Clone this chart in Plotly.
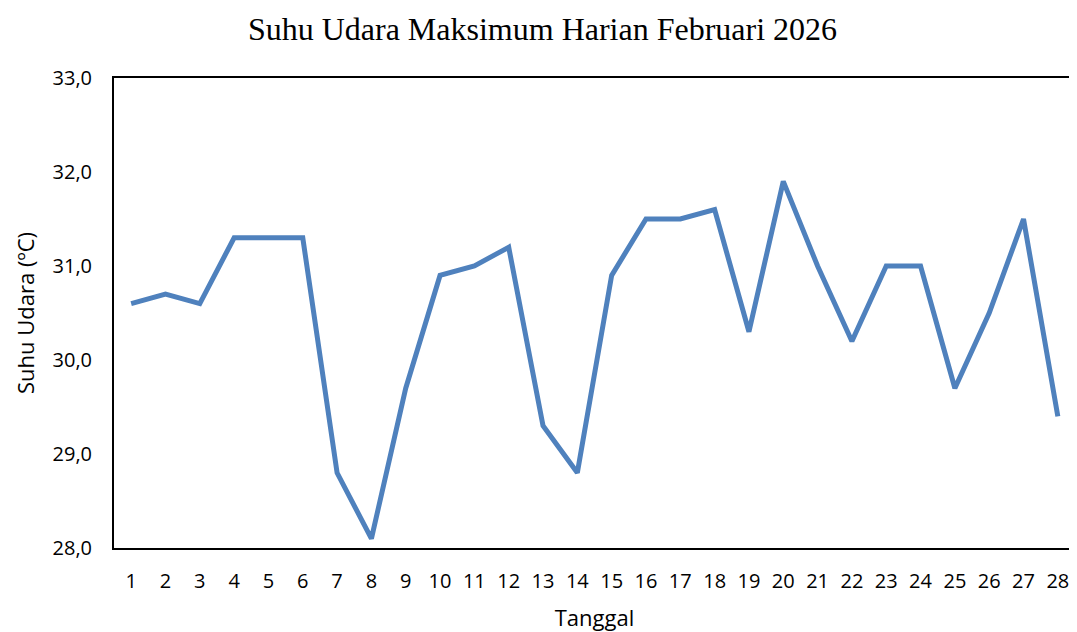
import plotly.graph_objects as go

tanggal = list(range(1, 29))
suhu = [30.6, 30.7, 30.6, 31.3, 31.3, 31.3, 28.8, 28.1, 29.7, 30.9,
        31.0, 31.2, 29.3, 28.8, 30.9, 31.5, 31.5, 31.6, 30.3, 31.9,
        31.0, 30.2, 31.0, 31.0, 29.7, 30.5, 31.5, 29.4]
y_ticks = [28.0, 29.0, 30.0, 31.0, 32.0, 33.0]

fig = go.Figure()
fig.add_trace(go.Scatter(
    x=[str(t) for t in tanggal], y=suhu, mode="lines",
    line=dict(color="#4f81bd", width=5),
    hoverinfo="x+y", showlegend=False,
))

fig.update_layout(
    width=1069, height=624,
    separators=",.",
    paper_bgcolor="white", plot_bgcolor="white",
    margin=dict(l=106, r=2, t=70, b=84, autoexpand=False),
    title=dict(text="Suhu Udara Maksimum Harian Februari 2026",
               x=0.5, xanchor="center", y=0.966, yanchor="middle",
               font=dict(family="Liberation Serif", size=32, color="black")),
    font=dict(family="Open Sans", color="black"),
)
fig.update_xaxes(
    type="category", range=[-0.5, 27.5],
    showgrid=False, showline=True, linecolor="black", linewidth=2, mirror=True,
    ticks="", ticklabelstandoff=14, tickfont=dict(size=20, family="Open Sans"),
    title=dict(text="Tanggal", font=dict(size=22, family="Open Sans"), standoff=22),
)
fig.update_yaxes(
    range=[28, 33], tickvals=y_ticks, tickformat=".1f",
    showgrid=False, showline=True, linecolor="black", linewidth=2, mirror=True,
    ticks="", ticklabelstandoff=16, tickfont=dict(size=20, family="Open Sans"),
    zeroline=False,
    title=dict(text="Suhu Udara (ºC)", font=dict(size=22, family="Open Sans"), standoff=12),
)

fig.write_html("out.html")
